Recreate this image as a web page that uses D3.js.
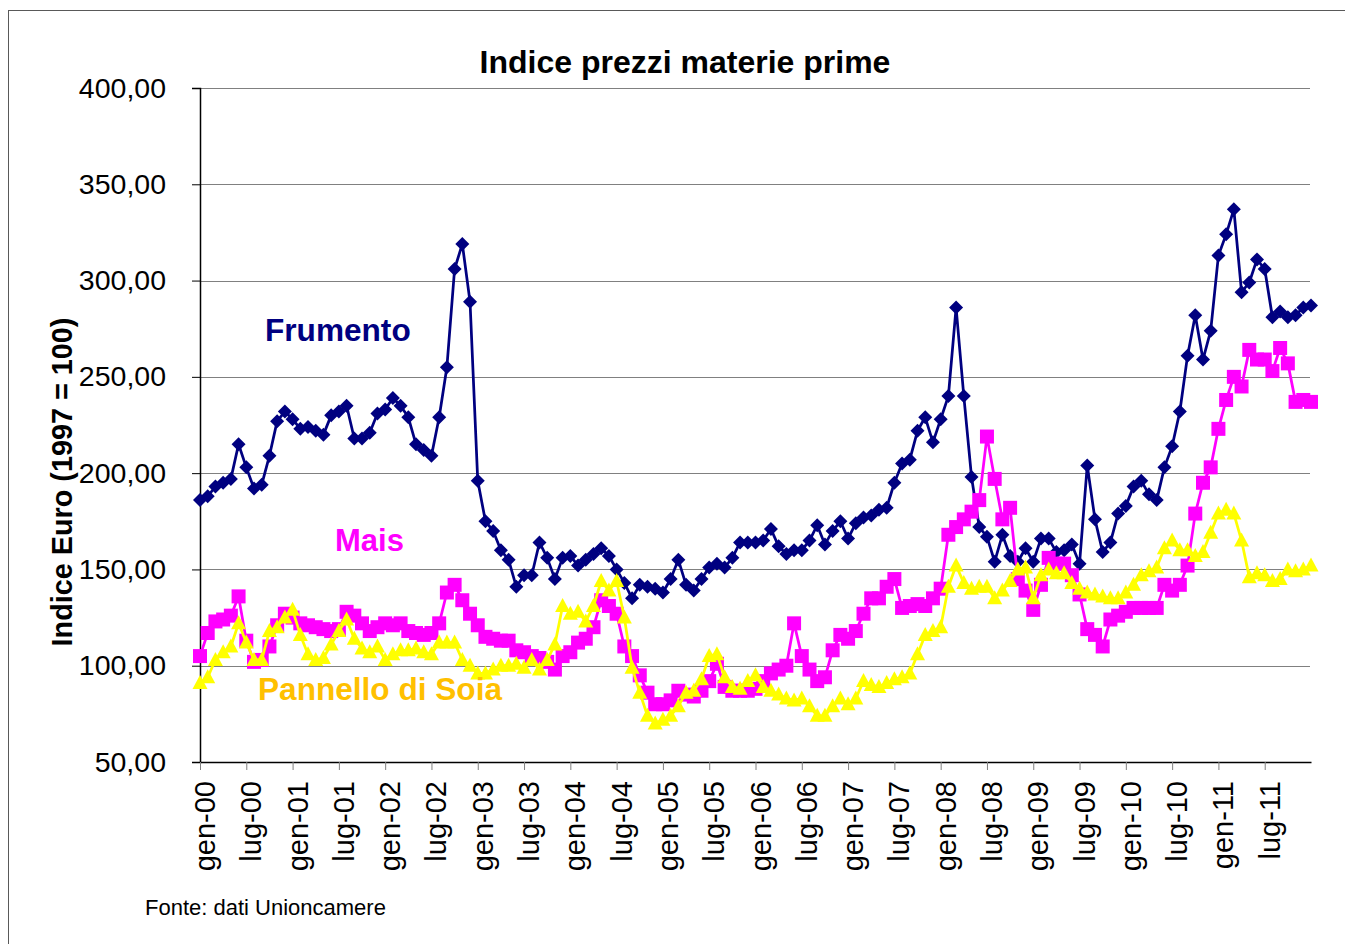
<!DOCTYPE html>
<html>
<head>
<meta charset="utf-8">
<script src="https://cdn.jsdelivr.net/npm/d3@7"></script>
<style>
  html, body { margin: 0; padding: 0; background: #fff; }
  svg { display: block; font-family: Arial, "Liberation Sans", sans-serif; }
</style>
</head>
<body>
<svg id="chart" width="1345" height="944"></svg>
<script>
// month labels (Italian) and years of the series
const mesi = ["gen", "feb", "mar", "apr", "mag", "giu", "lug", "ago", "set", "ott", "nov", "dic"];
const anni = ["00", "01", "02", "03", "04", "05", "06", "07", "08", "09", "10", "11", "12"];
const yTicks = [50, 100, 150, 200, 250, 300, 350, 400];

// index values, one per month from gen-00 to gen-12
const frumento = [
  186, 188, 193, 195, 197, 215, 203, 192, 194, 209, 227, 232,
  228, 223, 224, 222, 220, 230, 232, 235, 218, 218, 221, 231,
  233, 239, 235, 229, 215, 212, 209, 229, 255, 306, 319, 289,
  196, 175, 170, 160, 155, 141, 147, 147, 164, 156, 145, 156,
  157, 152, 155, 158, 161, 157, 150, 143, 135, 142, 141, 140,
  138, 145, 155, 142, 139, 145, 151, 153, 151, 156, 164, 164,
  164, 165, 171, 162, 158, 160, 160, 165, 173, 163, 170, 175,
  166, 174, 177, 178, 181, 182, 195, 205, 207, 222, 229, 216,
  228, 240, 286, 240, 198, 172, 167, 154, 168, 157, 154, 161,
  154, 166, 166, 159, 160, 163, 153, 204, 176, 159, 164, 179,
  183, 193, 196, 189, 186, 203, 214, 232, 261, 282, 259, 274,
  313, 324, 337, 294, 299, 311, 306, 281, 284, 281, 282, 286, 287
];
const mais = [
  105, 117, 123, 124, 126, 136, 113, 102, 103, 110, 121, 127,
  125, 122, 121, 120, 119, 118, 119, 128, 126, 122, 118, 120,
  122, 121, 122, 118, 117, 116, 117, 122, 138, 142, 134, 127,
  121, 115, 114, 113, 113, 108, 107, 105, 104, 102, 98, 105,
  107, 112, 114, 120, 134, 131, 127, 110, 105, 95, 86, 80,
  80, 82, 87, 85, 84, 87, 92, 101, 89, 87, 87, 87,
  88, 92, 96, 98, 100, 122, 105, 98, 92, 94, 108, 116,
  114, 118, 127, 135, 135, 141, 145, 130, 131, 132, 131, 135,
  140, 168, 172, 176, 180, 186, 219, 197, 176, 182, 145, 139,
  129, 142, 156, 153, 153, 147, 137, 119, 116, 110, 124, 126,
  128, 130, 130, 130, 130, 142, 139, 142, 152, 179, 195, 203,
  223, 238, 250, 245, 264, 259, 259, 253, 265, 257, 237, 238, 237
];
const soia = [
  91, 94, 103, 107, 110, 122, 112, 103, 103, 118, 120, 125,
  129, 116, 106, 103, 104, 111, 118, 124, 114, 109, 107, 110,
  103, 106, 108, 108, 109, 107, 106, 112, 112, 112, 103, 100,
  96, 96, 98, 100, 100, 101, 99, 103, 98, 103, 111, 131,
  127, 128, 123, 131, 144, 139, 144, 125, 99, 86, 74, 70,
  72, 74, 79, 86, 87, 93, 105, 106, 94, 89, 88, 92,
  95, 89, 87, 85, 83, 82, 83, 79, 74, 74, 79, 83,
  80, 83, 92, 90, 89, 91, 93, 94, 96, 106, 116, 118,
  120, 141, 152, 143, 140, 141, 141, 135, 139, 144, 150, 151,
  135, 147, 150, 148, 148, 143, 140, 138, 137, 136, 135, 135,
  138, 142, 147, 149, 151, 161, 165, 160, 160, 157, 159, 169,
  179, 181, 179, 165, 146, 148, 147, 144, 145, 150, 149, 150, 152
];

const mesiLabels = anni.flatMap(a => mesi.map(m => `${m}-${a}`)).slice(0, frumento.length);

const svg = d3.select("#chart");
const x = d3.scalePoint().domain(mesiLabels).range([200, 1311]);
const y = d3.scaleLinear().domain([50, 400]).range([762, 88]);
const fmt = d => d3.format(".2f")(d).replace(".", ",");

// outer frame (runs past the right and bottom edges)
svg.append("rect").attr("x", 8.5).attr("y", 10.5).attr("width", 1350).attr("height", 950)
  .attr("fill", "none").attr("stroke", "#595959").attr("stroke-width", 1);

// gridlines
svg.append("g").selectAll("line")
  .data(yTicks.filter(d => d > 50))
  .join("line")
  .attr("x1", 200).attr("x2", 1310)
  .attr("y1", d => Math.round(y(d)) + 0.5).attr("y2", d => Math.round(y(d)) + 0.5)
  .attr("stroke", "#808080").attr("stroke-width", 1);

// y axis
const yAxis = svg.append("g").attr("transform", "translate(200,0)")
  .call(d3.axisLeft(y).tickValues(yTicks).tickFormat(fmt).tickSize(8).tickPadding(26));
yAxis.select(".domain").attr("stroke", "#000").attr("stroke-width", 1.5);
yAxis.selectAll(".tick line").attr("stroke", "#000");
yAxis.selectAll("text").attr("font-size", 28.5).attr("fill", "#000")
  .attr("font-family", "Arial, 'Liberation Sans', sans-serif");

// x axis
const xTicks = mesiLabels.filter((d, i) => i % 6 === 0 && i < 144);
const xAxis = svg.append("g").attr("transform", "translate(0,762)")
  .call(d3.axisBottom(x).tickValues(xTicks).tickSize(8).tickSizeOuter(0));
xAxis.select(".domain").attr("stroke", "#000").attr("stroke-width", 1.5);
xAxis.selectAll(".tick line").attr("stroke", "#808080");
xAxis.selectAll("text")
  .attr("font-size", 29).attr("fill", "#000")
  .attr("font-family", "Arial, 'Liberation Sans', sans-serif")
  .attr("text-anchor", "end")
  .attr("transform", "rotate(-90)")
  .attr("x", -19).attr("y", 0).attr("dy", "0.5em");

// series
const series = [
  { name: "Frumento", values: frumento, color: "#000080", shape: "diamond" },
  { name: "Mais", values: mais, color: "#FF00FF", shape: "square" },
  { name: "Pannello di Soia", values: soia, color: "#FFFF00", shape: "triangle" }
];
const shapes = {
  diamond: "M0,-7L7,0L0,7L-7,0Z",
  square: "M-7,-7H7V7H-7Z",
  triangle: "M0,-8L7.5,6L-7.5,6Z"
};
const line = d3.line().x((d, i) => x(mesiLabels[i])).y(d => y(d));

series.forEach(s => {
  const g = svg.append("g");
  g.append("path").datum(s.values)
    .attr("d", line).attr("fill", "none")
    .attr("stroke", s.color).attr("stroke-width", 2.75).attr("stroke-linejoin", "round");
  g.selectAll("path.mk").data(s.values).join("path").attr("class", "mk")
    .attr("transform", (d, i) => `translate(${x(mesiLabels[i])},${y(d)})`)
    .attr("d", shapes[s.shape]).attr("fill", s.color);
});

// titles and labels
svg.append("text").attr("x", 685).attr("y", 73).attr("text-anchor", "middle")
  .attr("font-size", 32).attr("font-weight", "bold").text("Indice prezzi materie prime");
svg.append("text").attr("transform", "translate(72,482) rotate(-90)").attr("text-anchor", "middle")
  .attr("font-size", 28.8).attr("font-weight", "bold").text("Indice Euro (1997 = 100)");

svg.append("text").attr("x", 265).attr("y", 341).attr("font-size", 31.6).attr("font-weight", "bold")
  .attr("fill", "#000080").text("Frumento");
svg.append("text").attr("x", 335).attr("y", 551).attr("font-size", 31).attr("font-weight", "bold")
  .attr("fill", "#FF00FF").text("Mais");
svg.append("text").attr("x", 258).attr("y", 700).attr("font-size", 31.6).attr("font-weight", "bold")
  .attr("fill", "#FFC000").text("Pannello di Soia");

svg.append("text").attr("x", 145).attr("y", 915).attr("font-size", 22).text("Fonte: dati Unioncamere");
</script>
</body>
</html>
